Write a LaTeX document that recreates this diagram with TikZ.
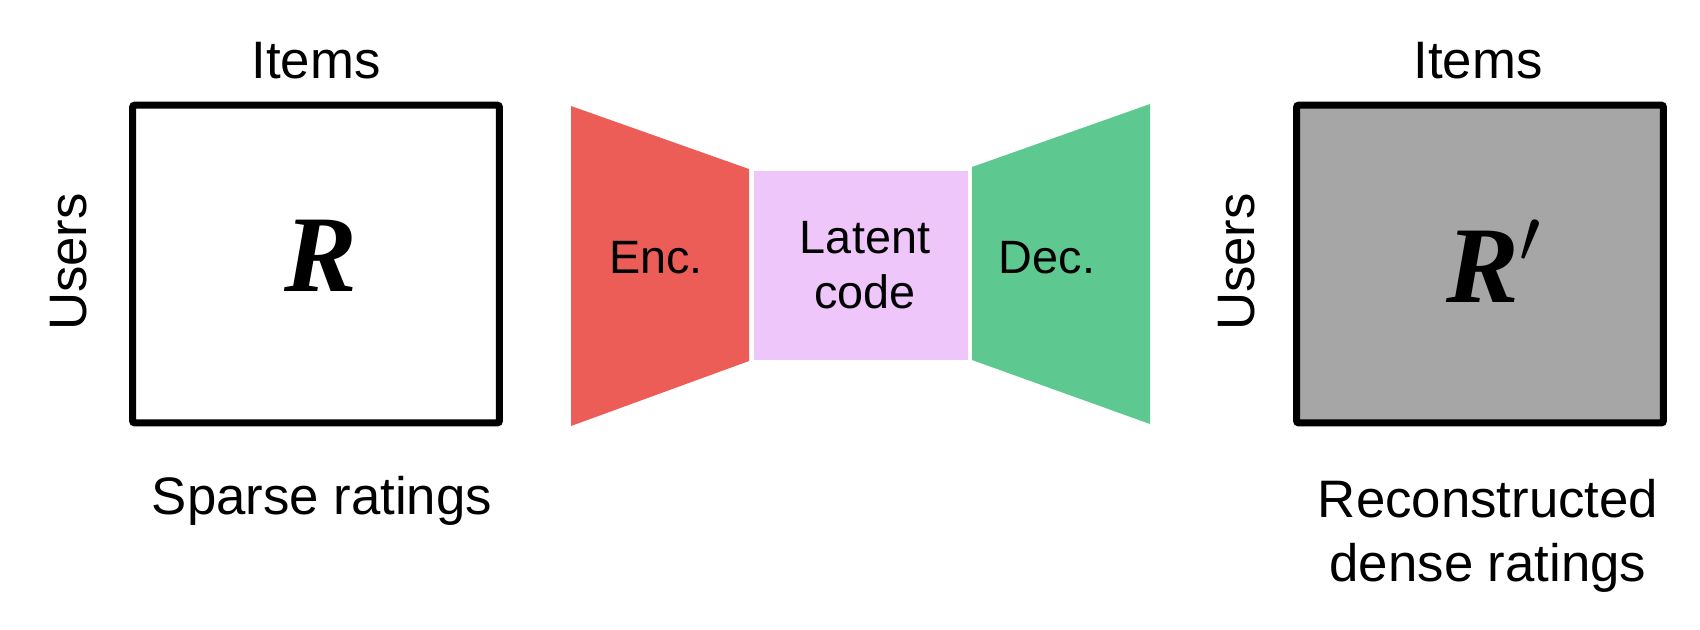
\RequirePackage{fix-cm}
\documentclass[tikz,border=0pt]{standalone}
\usepackage{fontspec}
\setmainfont{Liberation Sans}
\newfontfamily\symserif{Liberation Serif}
\definecolor{encred}{HTML}{EC5D57}
\definecolor{decgreen}{HTML}{5DC991}
\definecolor{latentpink}{HTML}{EEC6FA}
\definecolor{matgray}{HTML}{A6A6A6}
\tikzset{
  matrixbox/.style={draw=black, line width=0.07cm, rounded corners=0.02cm,
    minimum width=3.665cm, minimum height=3.175cm, inner sep=0pt},
  lbl/.style={inner sep=0pt, font=\fontsize{15}{18}\selectfont},
  smalllbl/.style={inner sep=0pt, font=\fontsize{13.3}{15.5}\selectfont},
  bigsym/.style={inner sep=0pt, font=\fontsize{31}{36}\selectfont\symserif\bfseries\itshape},
}
\begin{document}
\begin{tikzpicture}[x=0.01cm,y=-0.01cm]
\useasboundingbox (0,0) rectangle (1700,629);
% matrices
\node[matrixbox, fill=white] (Rbox) at (316,264) {};
\node[matrixbox, fill=matgray] (Rpbox) at (1480,264) {};
% encoder / latent / decoder
\fill[encred] (571,106) -- (749,169) -- (749,361) -- (571,426) -- cycle;
\fill[latentpink] (754,171) rectangle (968,360);
\fill[decgreen] (972,167) -- (1150,104) -- (1150,424) -- (972,360) -- cycle;
% labels
\node[lbl, anchor=base] (items1) at (316,78) {Items};
\node[lbl, anchor=base] (items2) at (1478,78) {Items};
\node[lbl, anchor=base, rotate=90] (users1) at (86,262) {Users};
\node[lbl, anchor=base, rotate=90] (users2) at (1254,262) {Users};
\node[bigsym, anchor=base] (R) at (321,291) {R};
\node[bigsym, anchor=base] (Rp) at (1494,302) {R$^{\prime}$};
\node[lbl, anchor=base] (sparse) at (322,514) {Sparse ratings};
\node[lbl, align=center, font=\fontsize{15}{18.2}\selectfont] (recon) at (1488,535.5) {Reconstructed\\dense ratings};
\node[smalllbl, anchor=base] (enc) at (656,273) {Enc.};
\node[smalllbl, anchor=base] (dec) at (1047,273) {Dec.};
\node[smalllbl, align=center] (latent) at (865,265) {Latent\\code};
\end{tikzpicture}
\end{document}
